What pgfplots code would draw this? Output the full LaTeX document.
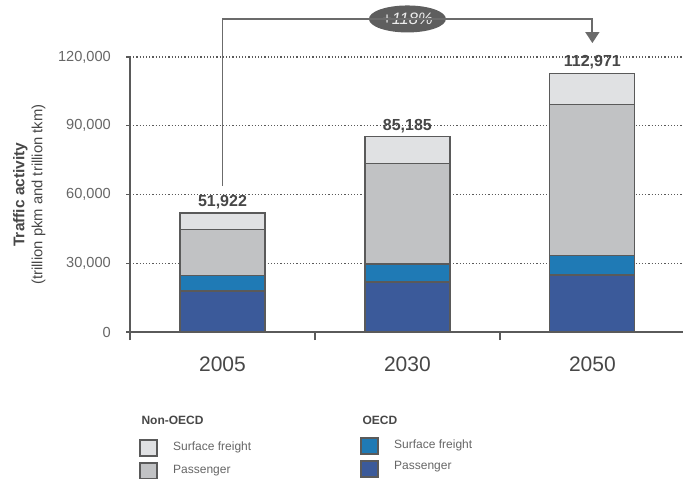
\documentclass[border=0pt]{standalone}
\usepackage{pgfplots}
\pgfplotsset{compat=1.18}
\usepackage{fontspec}
\setmainfont{Liberation Sans}
\usetikzlibrary{arrows.meta,shapes.geometric}

\definecolor{oecdPass}{HTML}{3B5A9A}
\definecolor{oecdFreight}{HTML}{1F7AB5}
\definecolor{nonPass}{HTML}{C1C2C4}
\definecolor{nonFreight}{HTML}{E0E1E3}
\definecolor{edge}{HTML}{5A5A5A}
\definecolor{txt}{HTML}{666666}
\definecolor{txtdark}{HTML}{474747}
\definecolor{pill}{HTML}{5E5E5E}

\begin{document}
\begin{tikzpicture}
\useasboundingbox (0,0) rectangle (683pt,-479pt);
\begin{axis}[
    at={(130pt,-332pt)}, anchor=south west,
    scale only axis, width=553pt, height=275pt,
    xmin=-0.5, xmax=2.49,
    ymin=0, ymax=120000,
    axis lines*=left,
    axis line style={edge, line width=1.2pt},
    clip=false,
    ybar stacked, bar width=85pt,
    xtick={0,1,2},
    xticklabels={2005,2030,2050},
    x tick style={draw=none},
    xticklabel style={font=\fontsize{21}{24}\selectfont, text=txtdark, inner sep=0pt, anchor=north, yshift=-21pt},
    extra x ticks={-0.5,0.5,1.5},
    extra x tick labels={},
    extra x tick style={x tick style={draw=edge, line width=1.2pt}, major tick length=8pt, tick align=outside},
    ytick={0,30000,60000,90000,120000},
    scaled y ticks=false,
    y tick style={edge, line width=1.2pt},
    major tick length=4pt, tick align=outside,
    yticklabel style={font=\fontsize{14.6}{16}\selectfont, text=txt, inner sep=0pt, xshift=-15pt,
        /pgf/number format/.cd, fixed, 1000 sep={,}, assume math mode=true},
    ymajorgrids,
    grid style={edge, line width=1.2pt, dotted},
    ylabel={\textbf{Traffic activity}\\\fontsize{14.8}{18}\selectfont(trillion pkm and trillion tkm)},
    ylabel style={at={(axis description cs:-0.1820,0.5)}, anchor=center, align=center,
        font=\fontsize{15.5}{18}\selectfont, text=txtdark},
    every axis plot/.append style={draw=edge, line width=1.2pt},
]
% OECD passenger
\addplot[fill=oecdPass] coordinates {(0,17900) (1,21800) (2,24900)};
% OECD surface freight
\addplot[fill=oecdFreight] coordinates {(0,6800) (1,7900) (2,8400)};
% Non-OECD passenger
\addplot[fill=nonPass] coordinates {(0,20200) (1,43700) (2,65800)};
% Non-OECD surface freight
\addplot[fill=nonFreight] coordinates {(0,7022) (1,11785) (2,13871)};

% totals above the bars
\node[anchor=south, inner sep=0pt, yshift=4pt, font=\bfseries\fontsize{16}{18}\selectfont, text=txtdark]
    at (axis cs:0,51922) {51,922};
\node[anchor=south, inner sep=0pt, yshift=4pt, font=\bfseries\fontsize{16}{18}\selectfont, text=txtdark]
    at (axis cs:1,85185) {85,185};
\node[anchor=south, inner sep=0pt, yshift=4pt, font=\bfseries\fontsize{16}{18}\selectfont, text=txtdark]
    at (axis cs:2,112971) {112,971};

% growth annotation
\draw[edge!90, line width=1.8pt, -{Triangle[width=14pt,length=11pt]}]
    (axis cs:0,63700) |- (axis cs:2,136600) -- (axis cs:2,126100);
\node[ellipse, fill=pill, minimum width=77pt, minimum height=27pt, inner sep=0pt,
      text=white!93!black, font=\itshape\fontsize{16.5}{18}\selectfont]
    at (axis cs:1,136600) {+118\%};
\end{axis}

% legend
\node[anchor=west, font=\bfseries\fontsize{12}{14}\selectfont, text=txtdark] at (138pt,-420pt) {Non-OECD};
\node[anchor=west, font=\bfseries\fontsize{12}{14}\selectfont, text=txtdark] at (359pt,-420pt) {OECD};
\draw[edge, line width=1.2pt, fill=nonFreight] (140pt,-440pt) rectangle (157pt,-456pt);
\draw[edge, line width=1.2pt, fill=nonPass] (140pt,-463pt) rectangle (157pt,-479pt);
\draw[edge, line width=1.2pt, fill=oecdFreight] (361pt,-438pt) rectangle (378pt,-454pt);
\draw[edge, line width=1.2pt, fill=oecdPass] (361pt,-461pt) rectangle (378pt,-477pt);
\node[anchor=west, inner sep=0pt, font=\fontsize{12}{14}\selectfont, text=txt] at (173pt,-447pt) {Surface freight};
\node[anchor=west, inner sep=0pt, font=\fontsize{12}{14}\selectfont, text=txt] at (173pt,-471pt) {Passenger};
\node[anchor=west, inner sep=0pt, font=\fontsize{12}{14}\selectfont, text=txt] at (394pt,-445pt) {Surface freight};
\node[anchor=west, inner sep=0pt, font=\fontsize{12}{14}\selectfont, text=txt] at (394pt,-467pt) {Passenger};
\end{tikzpicture}
\end{document}
